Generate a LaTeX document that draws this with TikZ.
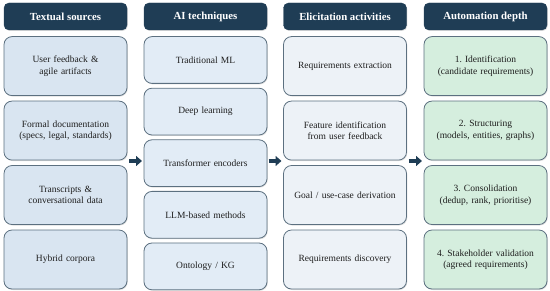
\documentclass[tikz,border=0pt]{standalone}
\usepackage{fontspec}
\setmainfont{Liberation Serif}
\frenchspacing
\usetikzlibrary{positioning, arrows.meta, shadows}
\definecolor{hdrnavy}{RGB}{31,61,85}
\definecolor{boxframe}{RGB}{92,112,128}
\definecolor{txtdark}{RGB}{30,30,30}
\definecolor{fillsrc}{RGB}{217,229,241}
\definecolor{filltech}{RGB}{226,236,246}
\definecolor{fillelic}{RGB}{237,242,247}
\definecolor{fillauto}{RGB}{213,238,222}
\tikzset{
  softshadow/.style={drop shadow={opacity=0.25, shadow xshift=0.8pt, shadow yshift=-1pt}},
  hdr/.style={rectangle, draw=hdrnavy, fill=hdrnavy, text=white,
    font=\bfseries\fontsize{10.8}{13}\selectfont, minimum width=123pt,
    minimum height=27pt, inner sep=0pt, rounded corners=5pt, softshadow},
  box/.style={rectangle, draw=boxframe, line width=0.8pt, text=txtdark,
    font=\fontsize{9.5}{11.5}\selectfont, align=center, text width=118pt,
    minimum width=123pt, inner sep=0pt, rounded corners=8pt, softshadow},
  srcbox/.style={box, fill=fillsrc, minimum height=59pt},
  techbox/.style={box, fill=filltech, minimum height=46.8pt},
  elicbox/.style={box, fill=fillelic, minimum height=59pt},
  autobox/.style={box, fill=fillauto, minimum height=59pt},
  flow/.style={-{Triangle[length=6pt, width=10pt]}, line width=4pt, color=hdrnavy}
}

\begin{document}
\begin{tikzpicture}[x=1pt, y=-1pt]
  \useasboundingbox (0,0) rectangle (550,291);

  % Column headers
  \node[hdr] (h1) at (65.5,16.5) {Textual sources};
  \node[hdr] (h2) at (205.5,16.5) {AI techniques};
  \node[hdr] (h3) at (345,16.5) {Elicitation activities};
  \node[hdr] (h4) at (485.5,16.5) {Automation depth};

  % Textual sources
  \node[srcbox, below=6pt of h1] (s1) {User feedback \&\\agile artifacts};
  \node[srcbox, below=4.67pt of s1] (s2) {Formal documentation\\(specs, legal, standards)};
  \node[srcbox, below=4.67pt of s2] (s3) {Transcripts \&\\conversational data};
  \node[srcbox, below=4.67pt of s3] (s4) {Hybrid corpora};

  % AI techniques
  \node[techbox, below=6pt of h2] (t1) {Traditional ML};
  \node[techbox, below=4pt of t1] (t2) {Deep learning};
  \node[techbox, below=4pt of t2] (t3) {Transformer encoders};
  \node[techbox, below=4pt of t3] (t4) {LLM-based methods};
  \node[techbox, below=4pt of t4] (t5) {Ontology / KG};

  % Elicitation activities
  \node[elicbox, below=6pt of h3] (e1) {Requirements extraction};
  \node[elicbox, below=4.67pt of e1] (e2) {Feature identification\\from user feedback};
  \node[elicbox, below=4.67pt of e2] (e3) {Goal / use-case derivation};
  \node[elicbox, below=4.67pt of e3] (e4) {Requirements discovery};

  % Automation depth
  \node[autobox, below=6pt of h4] (d1) {1. Identification\\(candidate requirements)};
  \node[autobox, below=4.67pt of d1] (d2) {2. Structuring\\(models, entities, graphs)};
  \node[autobox, below=4.67pt of d2] (d3) {3. Consolidation\\(dedup, rank, prioritise)};
  \node[autobox, below=4.67pt of d3] (d4) {4. Stakeholder validation\\(agreed requirements)};

  % Flow arrows between columns
  \coordinate (f1a) at (129,161);
  \coordinate (f1b) at (142,161);
  \coordinate (f2a) at (268.5,161);
  \coordinate (f2b) at (281.5,161);
  \coordinate (f3a) at (408.5,161);
  \coordinate (f3b) at (422,161);
  \draw[flow] (f1a) -- (f1b);
  \draw[flow] (f2a) -- (f2b);
  \draw[flow] (f3a) -- (f3b);
\end{tikzpicture}
\end{document}
